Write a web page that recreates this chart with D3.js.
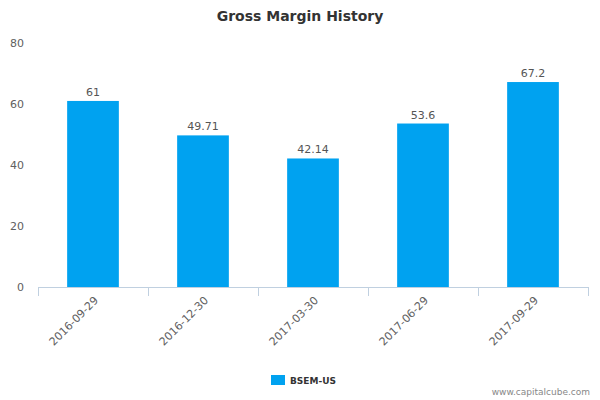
<!DOCTYPE html>
<html><head><meta charset="utf-8">
<script src="https://cdn.jsdelivr.net/npm/d3@7"></script>
<style>body{margin:0;background:#fff}text{font-family:"DejaVu Sans",Arial,sans-serif}</style>
</head><body><svg id="c" width="600" height="400"></svg>
<script>
const categories = ["2016-09-29","2016-12-30","2017-03-30","2017-06-29","2017-09-29"];
const values = [61, 49.71, 42.14, 53.6, 67.2];
const labels = ["61","49.71","42.14","53.6","67.2"];
const yTicks = [0,20,40,60,80];
const seriesName = "BSEM-US";

const svg = d3.select("#c");
const L=38,R=588,T=43,B=287;
const x = d3.scaleBand().domain(categories).range([L,R]).paddingInner(0.53).paddingOuter(0.265);
const y = d3.scaleLinear().domain([0,80]).range([B,T]);
const color="#00a2f0";

svg.append("text").attr("x",300).attr("y",21).attr("text-anchor","middle")
  .attr("font-size",14).attr("font-weight","bold").attr("fill","#333").text("Gross Margin History");

svg.selectAll(".yt").data(yTicks).enter().append("text")
  .attr("x",24).attr("y",d=>y(d)+4).attr("text-anchor","end")
  .attr("font-size",11).attr("fill","#606060").text(d=>d);

svg.selectAll(".bar").data(values).enter().append("rect")
  .attr("x",(d,i)=>x(categories[i])).attr("width",x.bandwidth())
  .attr("y",d=>y(d)).attr("height",d=>B-y(d)).attr("fill",color);

svg.selectAll(".vl").data(values).enter().append("text")
  .attr("x",(d,i)=>x(categories[i])+x.bandwidth()/2).attr("y",d=>y(d)-5)
  .attr("text-anchor","middle").attr("font-size",11).attr("fill","#555")
  .text((d,i)=>labels[i]);

svg.append("line").attr("x1",L).attr("x2",R).attr("y1",B+0.5).attr("y2",B+0.5).attr("stroke","#c0d0e0");
const step = x.step();
d3.range(categories.length+1).forEach(i=>{
  const xx=Math.round(L+i*step)+0.5;
  svg.append("line").attr("x1",xx).attr("x2",xx).attr("y1",B).attr("y2",B+9).attr("stroke","#c0d0e0");
});

svg.selectAll(".xl").data(categories).enter().append("text")
  .attr("transform",d=>`translate(${x(d)+x.bandwidth()/2+6},${B+14}) rotate(-45)`)
  .attr("text-anchor","end").attr("font-size",11).attr("fill","#606060").text(d=>d);

svg.append("rect").attr("x",271).attr("y",375).attr("width",14).attr("height",10).attr("fill",color);
svg.append("text").attr("x",290).attr("y",384).attr("font-size",9).attr("font-weight","bold").attr("fill","#333").text(seriesName);

svg.append("text").attr("x",590).attr("y",395).attr("text-anchor","end").attr("font-size",9).attr("fill","#888").text("www.capitalcube.com");
</script></body></html>
